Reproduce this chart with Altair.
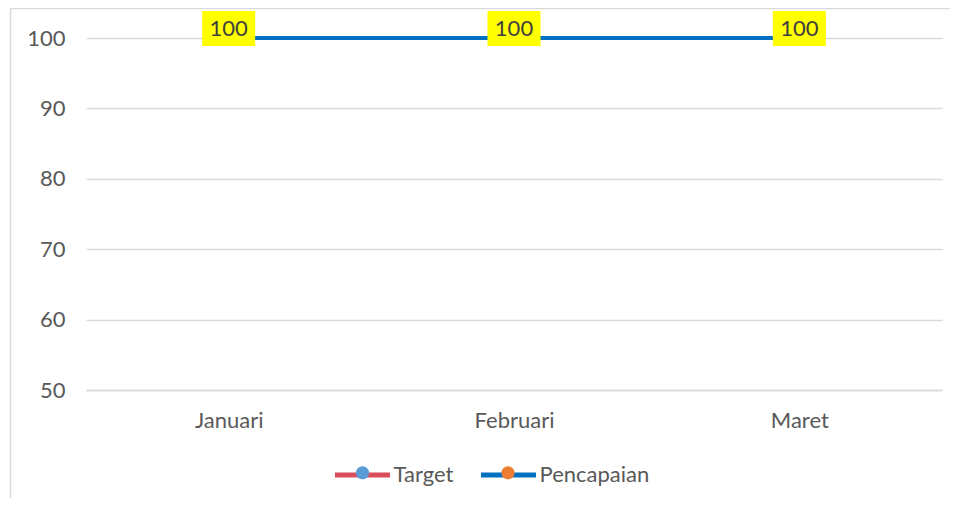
import altair as alt
import pandas as pd

months = ["Januari", "Februari", "Maret"]
target = [100, 100, 100]
pencapaian = [100, 100, 100]
series_names = ["Target", "Pencapaian"]
line_colors = ["#dc4d5c", "#0070c0"]
marker_colors = ["#5b9bd5", "#ed7d31"]
y_ticks = [50, 60, 70, 80, 90, 100]

rows = []
for name, vals in zip(series_names, [target, pencapaian]):
    for m, v in zip(months, vals):
        rows.append({"series": name, "series_m": name, "month": m, "value": v})
df = pd.DataFrame(rows)

FONT = "Lato"
FS = 22

x_enc = alt.X("month:N", sort=months, title=None,
              scale=alt.Scale(type="point", padding=0.5),
              axis=alt.Axis(domain=True, domainColor="#d9d9d9", domainWidth=1.5, ticks=False,
                            grid=False, labelAngle=0, labelPadding=20,
                            labelFontSize=FS, labelFont=FONT, labelColor="#595959"))
y_enc = alt.Y("value:Q", title=None,
              scale=alt.Scale(domain=[50, 100], nice=False, zero=False),
              axis=alt.Axis(domain=False, ticks=False, values=y_ticks, grid=True,
                            gridColor="#d9d9d9", gridWidth=1.5, labelPadding=21,
                            labelFontSize=FS, labelFont=FONT, labelColor="#595959"))

stroke_legend = alt.Legend(
    orient="none", legendX=246.5, legendY=407, direction="horizontal", title=None,
    symbolType="M-1,0L1,0", symbolSize=3025, symbolStrokeWidth=5,
    labelFontSize=FS, labelFont=FONT, labelColor="#595959", labelOffset=1,
    columnPadding=17, padding=0, zindex=0)
fill_legend = alt.Legend(
    orient="none", legendX=249, legendY=407, direction="horizontal", title=None,
    symbolType="M-0.24,0A0.24,0.24 0 1,1 0.24,0A0.24,0.24 0 1,1 -0.24,0Z",
    symbolSize=3025, symbolStrokeWidth=0, symbolOpacity=1,
    labelExpr="''", labelFontSize=FS, labelOffset=0,
    columnPadding=90.5, padding=0, zindex=1)

stroke_scale = alt.Scale(domain=series_names, range=line_colors)
fill_scale = alt.Scale(domain=series_names, range=marker_colors)

base = alt.Chart(df)

line_t = base.transform_filter(alt.datum.series == "Target").mark_line(strokeWidth=4).encode(
    x=x_enc, y=y_enc,
    stroke=alt.Stroke("series:N", scale=stroke_scale, legend=stroke_legend))
line_p = base.transform_filter(alt.datum.series == "Pencapaian").mark_line(strokeWidth=4).encode(
    x=x_enc, y=y_enc,
    stroke=alt.Stroke("series:N", scale=stroke_scale, legend=stroke_legend))
points = base.mark_point(filled=True, size=120, opacity=1).encode(
    x=x_enc, y=y_enc,
    fill=alt.Fill("series_m:N", scale=fill_scale, legend=fill_legend))

lab = base.transform_filter(alt.datum.series == "Pencapaian")
boxes = lab.mark_rect(color="#ffff00", width=53, height=35, yOffset=-9.5).encode(x=x_enc, y=y_enc)
texts = lab.mark_text(fontSize=FS, font=FONT, color="#404040", yOffset=-9.5, baseline="middle").encode(
    x=x_enc, y=y_enc, text=alt.Text("value:Q"))

frame_df = pd.DataFrame({"a": [0]})
frame_left = alt.Chart(frame_df).mark_rule(color="#d9d9d9", strokeWidth=1.5).encode(
    x=alt.value(-75.5), y=alt.value(-29.5), y2=alt.value(470))
frame_top = alt.Chart(frame_df).mark_rule(color="#d9d9d9", strokeWidth=1.5).encode(
    x=alt.value(-75.5), x2=alt.value(880), y=alt.value(-29.5))

chart = alt.layer(frame_left, frame_top, line_t, line_p, points, boxes, texts).properties(
    width=856, height=352,
    padding={"left": 78, "top": 30, "right": 8, "bottom": 108},
    autosize="none",
).configure_view(stroke=None).resolve_scale(stroke="shared", fill="independent")

chart.save("out.html", embed_options={"renderer": "svg", "actions": False})
